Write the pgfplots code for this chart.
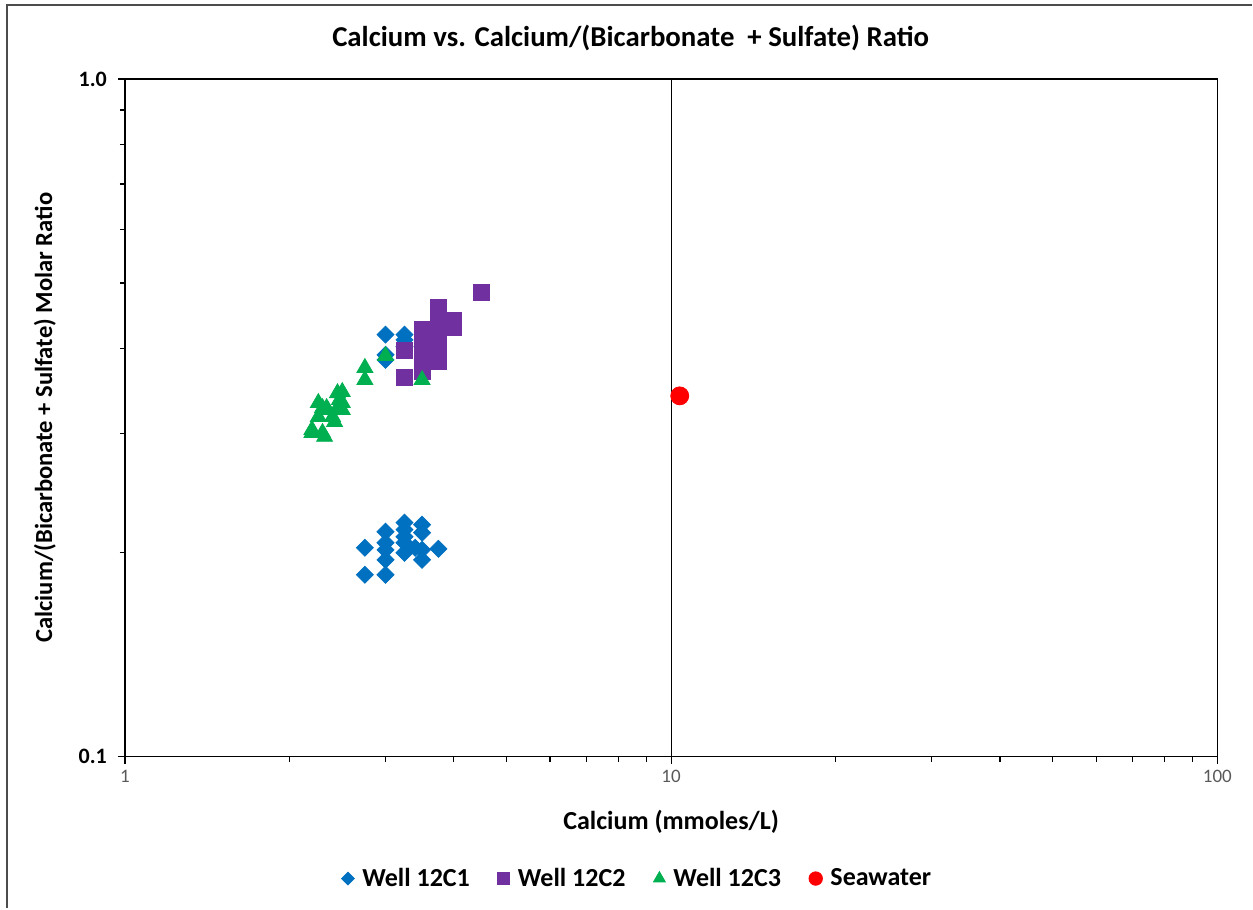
\documentclass[border=0pt]{standalone}
\usepackage{pgfplots}
\pgfplotsset{compat=1.18}
\usepackage{fontspec}
\setmainfont{Carlito}
\definecolor{cblue}{HTML}{0070C0}
\definecolor{cpurple}{HTML}{7030A0}
\definecolor{cgreen}{HTML}{00B050}
\definecolor{tickgray}{HTML}{595959}
\begin{document}
\begin{tikzpicture}
\begin{axis}[
  scale only axis,
  width=546.5pt, height=339pt,
  at={(0,0)}, anchor=south west,
  xmode=log, ymode=log,
  xmin=1, xmax=100, ymin=0.1, ymax=1,
  xtick={1,10,100}, xticklabels={1,10,100},
  ytick={0.1,1}, yticklabels={\textbf{0.1},\textbf{1.0}},
  minor xtick={2,3,4,5,6,7,8,9,20,30,40,50,60,70,80,90},
  minor ytick={0.2,0.3,0.4,0.5,0.6,0.7,0.8,0.9},
  tick align=outside, major tick length=3.5pt, minor tick length=2.5pt,
  tick style={black, line width=0.6pt},
  xtick pos=bottom, ytick pos=left,
  axis line style={black, line width=0.8pt},
  xmajorgrids, major grid style={black, line width=0.5pt},
  x tick label style={font=\fontsize{9.5}{11}\selectfont, text=tickgray},
  y tick label style={font=\fontsize{11}{13}\selectfont, text=black, xshift=-2pt},
  /pgf/number format/assume math mode=true,
  xlabel={\textbf{Calcium (mmoles/L)}},
  ylabel={\textbf{Calcium/(Bicarbonate + Sulfate) Molar Ratio}},
  xlabel style={font=\fontsize{13}{15}\selectfont, at={(axis description cs:0.5,0)}, anchor=center, yshift=-32.5pt},
  ylabel style={font=\fontsize{12.3}{14}\selectfont, at={(axis description cs:0,0.5)}, anchor=center, yshift=40pt},
  legend style={at={(axis description cs:0.47,-0.18)}, anchor=center, draw=none, fill=none,
    font=\fontsize{13}{15}\selectfont\bfseries, legend columns=4,
    /tikz/every even column/.append style={column sep=12pt},
    /tikz/every odd column/.append style={column sep=2pt}},
  legend image post style={scale=0.75},
  legend cell align=left,
  clip=false,
]
\addplot[only marks, mark=square*, mark size=3pt, mark options={rotate=45, fill=cblue, draw=cblue}, color=cblue] coordinates {
(3.0,0.4195) (3.0,0.3917) (3.0,0.385) (3.25,0.4195) (3.25,0.412) (3.25,0.4025)
(2.75,0.2033) (2.75,0.1855)
(3.0,0.2147) (3.0,0.2068) (3.0,0.2019) (3.0,0.1952) (3.0,0.1855)
(3.25,0.2214) (3.25,0.2162) (3.25,0.2111) (3.25,0.2068) (3.25,0.1999)
(3.5,0.2199) (3.5,0.214) (3.4,0.2033) (3.5,0.2019) (3.5,0.1952)
(3.75,0.2026)
};
\addlegendentry{Well 12C1}
\addplot[only marks, mark=square*, mark size=4pt, mark options={fill=cpurple, draw=cpurple}, color=cpurple] coordinates {
(4.5,0.4835)
(3.75,0.4596) (3.75,0.444) (3.75,0.4264) (3.75,0.4025) (3.75,0.3826)
(4.0,0.441) (4.0,0.4305)
(3.5,0.4264) (3.5,0.412) (3.5,0.3985) (3.5,0.385) (3.5,0.3703)
(3.25,0.397) (3.25,0.3622)
};
\addlegendentry{Well 12C2}
\addplot[only marks, mark=triangle*, mark size=4.6pt, mark options={fill=cgreen, draw=cgreen}, color=cgreen] coordinates {
(3.0,0.3904) (2.75,0.3748) (2.75,0.3597) (3.5,0.3597)
(2.5,0.3453) (2.45,0.344) (2.47,0.336) (2.26,0.3327) (2.34,0.327) (2.5,0.3248)
(2.26,0.3172) (2.42,0.3119) (2.2,0.3036) (2.3,0.3005) (2.32,0.2965) (2.2,0.3005)
(2.3,0.327) (2.35,0.3248) (2.45,0.327) (2.4,0.3172) (2.5,0.3327)
};
\addlegendentry{Well 12C3}
\addplot[only marks, mark=*, mark size=4.5pt, mark options={fill=red, draw=red}, color=red] coordinates {
(10.37,0.3407)
};
\addlegendentry{Seawater}
\end{axis}
\node[font=\fontsize{14.4}{17}\selectfont\bfseries, anchor=center] at (253pt,359.5pt) {Calcium vs. Calcium/(Bicarbonate \ + Sulfate) Ratio};
\draw[black!70, line width=0.7pt] (-59pt,-76pt) -- (-59pt,376pt) -- (564pt,376pt);
\useasboundingbox (-62.5pt,-76pt) rectangle (564pt,378.5pt);
\end{tikzpicture}
\end{document}
